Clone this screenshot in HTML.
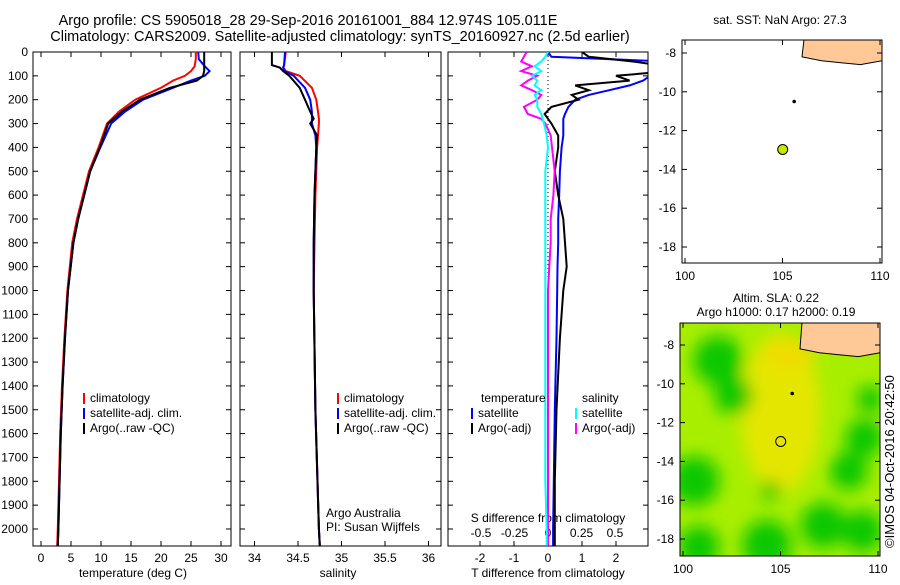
<!DOCTYPE html>
<html><head><meta charset="utf-8"><style>
body{margin:0;background:#fff;}
svg{font-family:"Liberation Sans",sans-serif;font-size:12px;}
</style></head><body>
<svg id="c" width="900" height="580" xmlns="http://www.w3.org/2000/svg">
<text x="308" y="25" text-anchor="middle" font-size="14.5">Argo profile: CS 5905018_28 29-Sep-2016 20161001_884 12.974S 105.011E</text>
<text x="340" y="41" text-anchor="middle" font-size="14.5">Climatology: CARS2009. Satellite-adjusted climatology: synTS_20160927.nc (2.5d earlier)</text>
<g id="g"></g>
<text transform="translate(894,548) rotate(-90)" font-size="13">©IMOS 04-Oct-2016 20:42:50</text>
</svg>
<script>
// ---- data ----
const tDepth=[0,30,60,80,100,120,150,200,250,300,400,500,600,700,800,1000,1200,1400,1600,1800,2000,2070];
const tArgo=[27.2,27.2,27.2,27.2,27.0,26.0,21.5,16.5,13.5,11.2,9.8,8.2,7.2,6.2,5.4,4.5,4.0,3.6,3.3,3.1,2.9,2.8];
const tClim=[25.8,25.8,25.6,25.0,24.0,22.0,20.0,15.7,13.0,11.0,9.6,8.0,7.0,6.0,5.2,4.4,3.9,3.5,3.2,3.0,2.8,2.7];
const tSat=[26.2,26.3,27.3,28.1,27.3,25.0,22.0,17.0,14.0,11.7,9.9,8.2,7.2,6.2,5.4,4.5,4.0,3.6,3.3,3.1,2.9,2.8];
const sDepth=[0,55,65,80,100,150,200,250,280,300,350,400,600,800,1000,1500,2000,2070];
const sArgo=[34.2,34.2,34.29,34.33,34.4,34.52,34.58,34.64,34.68,34.64,34.72,34.71,34.69,34.68,34.68,34.7,34.74,34.75];
const sClim=[34.36,34.34,34.33,34.36,34.52,34.66,34.71,34.73,34.74,34.74,34.73,34.72,34.7,34.69,34.68,34.7,34.74,34.75];
const sSat=[34.35,34.34,34.33,34.35,34.45,34.58,34.64,34.66,34.66,34.66,34.7,34.71,34.69,34.68,34.68,34.7,34.74,34.75];
const dDepth=[0,20,40,60,80,100,120,140,160,180,200,230,260,280,300,350,400,500,600,700,800,900,1000,1200,1500,1800,2000,2070];
const dTSat=[0,0.1,3.5,3.8,3.3,3.0,2.8,2.4,1.8,1.2,0.8,0.6,0.5,0.45,0.45,0.45,0.4,0.35,0.33,0.3,0.3,0.28,0.27,0.25,0.2,0.17,0.15,0.15];
const dTArgo=[1.0,1.2,2.5,3.5,3.6,2.0,2.4,0.8,1.2,0.7,0.9,0.1,-0.1,0,0.1,0.3,0.3,0.2,0.3,0.45,0.5,0.55,0.45,0.35,0.25,0.2,0.2,0.2];
const dSArgo=[-0.16,-0.18,-0.2,-0.12,-0.2,-0.08,-0.15,-0.2,-0.12,-0.05,-0.08,-0.18,-0.15,-0.05,-0.02,0.02,0.03,0.05,0.04,0.02,0.02,0.01,0.0,0.0,0.0,0.0,0.0,0.0];
const dSSat=[0,-0.02,-0.05,-0.1,-0.05,-0.12,-0.08,-0.1,-0.05,-0.1,-0.08,-0.08,-0.05,-0.04,-0.03,-0.01,0,-0.02,-0.02,-0.02,-0.02,-0.02,-0.02,-0.02,-0.02,-0.02,-0.01,-0.01];
const depthTicks=[0,100,200,300,400,500,600,700,800,900,1000,1100,1200,1300,1400,1500,1600,1700,1800,1900,2000];
const tTicks=[0,5,10,15,20,25,30];
const sTicks=[34,34.5,35,35.5,36];
const dtTicks=[-2,-1,0,1,2];
const dsTicks=[-0.5,-0.25,0,0.25,0.5];
const dsLabels=["-0.5","-0.25","0","0.25","0.5"];
const latTicks=[-8,-10,-12,-14,-16,-18];
const lonTicks=[100,105,110];
const floatLon=[105.011];const floatLat=[-12.974];
const greenBlobs=[[101.8,-8.8,1.3],[102.6,-10.6,1.0],[100.6,-15,1.3],[100.8,-18.4,1.1],[104.3,-18.3,1.3],[107.2,-17.3,1.2],[109.2,-17.6,1.1],[109.3,-12.8,1.0],[108.5,-14.5,1.0],[109.6,-10.8,0.7],[104.5,-15.5,0.5]];
// ---- helpers ----
const NS="http://www.w3.org/2000/svg",G=document.getElementById('g');
function mk(t,a,p){const e=document.createElementNS(NS,t);for(const k in a)e.setAttribute(k,a[k]);(p||G).appendChild(e);return e;}
const Y0=52,YS=0.2385,PB=546;
const yD=d=>Y0+d*YS;
function frame(x0,x1,name){const r=mk('rect',{x:x0,y:Y0,width:x1-x0,height:PB-Y0,fill:'none',stroke:'#000'});}
function line(xs,ds,fx,col,w,name,clip){const pts=xs.map((v,i)=>fx(v).toFixed(1)+','+yD(ds[i]).toFixed(1)).join(' ');const p=mk('polyline',{points:pts,fill:'none',stroke:col,'stroke-width':w});if(clip)p.setAttribute('clip-path','url(#'+clip+')');}
function txt(x,y,s,anch,name,sz){const t=mk('text',{x:x,y:y,'text-anchor':anch||'start'});if(sz)t.setAttribute('font-size',sz);t.textContent=s;return t;}
function legend(x,y,items){items.forEach((it,i)=>{mk('line',{x1:x,x2:x,y1:y+i*15-9,y2:y+i*15+2,stroke:it[1],'stroke-width':2});txt(x+6,y+i*15,it[0],'start','legend-entry');});}
const defs=mk('defs',{});
[['c3',448,648,Y0,PB],['m1',682,882,40,263],['m2',680,880,323,556]].forEach(c=>{const cp=mk('clipPath',{id:c[0]},defs);mk('rect',{x:c[1],y:c[3],width:c[2]-c[1],height:c[4]-c[3]},cp);});
depthTicks.forEach(d=>{txt(28,yD(d)+4,String(d),'end','depth-tick-label');});
[[33,231],[240,441],[448,648]].forEach(p=>depthTicks.forEach(d=>{mk('line',{x1:p[0],x2:p[0]+5,y1:yD(d),y2:yD(d),stroke:'#000'});mk('line',{x1:p[1],x2:p[1]-5,y1:yD(d),y2:yD(d),stroke:'#000'});}));
// panel 1
const xT=v=>41+v*6;
frame(33,231,'temperature-panel');
tTicks.forEach(v=>{mk('line',{x1:xT(v),x2:xT(v),y1:PB,y2:PB-5,stroke:'#000'});mk('line',{x1:xT(v),x2:xT(v),y1:Y0,y2:Y0+5,stroke:'#000'});txt(xT(v),562,String(v),'middle','temperature-tick-label');});
txt(133,577,'temperature (deg C)','middle','temperature-axis-title');
line(tClim,tDepth,xT,'#f00',2,'temperature-climatology-line');
line(tSat,tDepth,xT,'#00f',2,'temperature-satellite-line');
line(tArgo,tDepth,xT,'#000',2,'temperature-argo-line');
legend(84,402,[['climatology','#f00'],['satellite-adj. clim.','#00f'],['Argo(..raw -QC)','#000']]);
// panel 2
const xS=v=>254.5+(v-34)*87;
frame(240,441,'salinity-panel');
sTicks.forEach(v=>{mk('line',{x1:xS(v),x2:xS(v),y1:PB,y2:PB-5,stroke:'#000'});mk('line',{x1:xS(v),x2:xS(v),y1:Y0,y2:Y0+5,stroke:'#000'});txt(xS(v),562,String(v),'middle','salinity-tick-label');});
txt(338,577,'salinity','middle','salinity-axis-title');
line(sClim,sDepth,xS,'#f00',2,'salinity-climatology-line');
line(sSat,sDepth,xS,'#00f',2,'salinity-satellite-line');
line(sArgo,sDepth,xS,'#000',2,'salinity-argo-line');
legend(338,402,[['climatology','#f00'],['satellite-adj. clim.','#00f'],['Argo(..raw -QC)','#000']]);
txt(326,517,'Argo Australia','start','credit-argo-australia');
txt(326,531,'PI: Susan Wijffels','start','credit-pi');
// panel 3
const xDT=v=>548+v*34, xDS=v=>548+v*134;
frame(448,648,'difference-panel');
mk('line',{x1:548,x2:548,y1:Y0,y2:PB,stroke:'#000','stroke-dasharray':'1,3'});
dtTicks.forEach(v=>{mk('line',{x1:xDT(v),x2:xDT(v),y1:PB,y2:PB-5,stroke:'#000'});mk('line',{x1:xDT(v),x2:xDT(v),y1:Y0,y2:Y0+5,stroke:'#000'});txt(xDT(v),562,String(v),'middle','t-diff-tick-label');});
dsTicks.forEach((v,i)=>{txt(xDS(v),537,dsLabels[i],'middle','s-diff-tick-label');});
txt(548,522,'S difference from climatology','middle','s-diff-axis-title');
txt(548,577,'T difference from climatology','middle','t-diff-axis-title');
line(dTSat,dDepth,xDT,'#00f',2,'t-diff-satellite-line','c3');
line(dTArgo,dDepth,xDT,'#000',2,'t-diff-argo-line','c3');
line(dSArgo,dDepth,xDS,'#f0f',2,'s-diff-argo-line','c3');
line(dSSat,dDepth,xDS,'#0ff',2,'s-diff-satellite-line','c3');
txt(481,402,'temperature','start','legend-temperature-heading');
txt(582,402,'salinity','start','legend-salinity-heading');
legend(472,417,[['satellite','#00f'],['Argo(-adj)','#000']]);
legend(576,417,[['satellite','#0ff'],['Argo(-adj)','#f0f']]);
// maps
function map(x0,x1,y0,y1,latY0,name,clip,filled){
 const xL=v=>x0+3+(v-100)*19.5, yL=v=>latY0+(-8-v)*19.4;
 if(filled){mk('rect',{x:x0,y:y0,width:x1-x0,height:y1-y0,fill:'#a8ee00'});
  const f=mk('filter',{id:'bl',x:'-50%',y:'-50%',width:'200%',height:'200%'},defs);mk('feGaussianBlur',{stdDeviation:8},f);
  const gg=mk('g',{'clip-path':'url(#'+clip+')',filter:'url(#bl)'});
  mk('ellipse',{cx:xL(105),cy:yL(-11.5),rx:40,ry:80,fill:'#e4e600'},gg);mk('ellipse',{cx:xL(105.5),cy:yL(-8.5),rx:25,ry:15,fill:'#f0dc00'},gg);
  greenBlobs.forEach(b=>{const e=mk('circle',{cx:xL(b[0]),cy:yL(b[1]),r:b[2]*19,fill:'#10c800'},gg);});
 }
 const land=mk('path',{d:`M${xL(106.1)},${y0} L${xL(106)},${yL(-8.2)} L${xL(107)},${yL(-8.4)} L${xL(108)},${yL(-8.5)} L${xL(109)},${yL(-8.6)} L${x1},${yL(-8.4)} L${x1},${y0} Z`,fill:'#ffc896',stroke:'#000','clip-path':'url(#'+clip+')'});
 
 const r=mk('rect',{x:x0,y:y0,width:x1-x0,height:y1-y0,fill:'none',stroke:'#000'});
 latTicks.forEach(v=>{mk('line',{x1:x0,x2:x0+5,y1:yL(v),y2:yL(v),stroke:'#000'});mk('line',{x1:x1,x2:x1-5,y1:yL(v),y2:yL(v),stroke:'#000'});txt(x0-6,yL(v)+4,String(v),'end','lat-tick-label');});
 lonTicks.forEach(v=>{mk('line',{x1:xL(v),x2:xL(v),y1:y1,y2:y1-5,stroke:'#000'});mk('line',{x1:xL(v),x2:xL(v),y1:y0,y2:y0+5,stroke:'#000'});txt(xL(v),y1+17,String(v),'middle','lon-tick-label');});
 mk('circle',{cx:xL(105.6),cy:yL(-10.5),r:1.8,fill:'#000'});
 floatLon.forEach((v,i)=>{const c=mk('circle',{cx:xL(v),cy:yL(floatLat[i]),r:5,fill:filled?'none':'#c8e600',stroke:'#000'});});
}
map(682,882,40,263,53,'sst-map','m1',false);
map(680,880,323,556,345,'sla-map','m2',true);
txt(780,24,'sat. SST: NaN Argo: 27.3','middle','sst-map-title');
txt(776,302,'Altim. SLA: 0.22','middle','sla-map-title');
txt(776,316,'Argo h1000: 0.17 h2000: 0.19','middle','sla-map-subtitle');
</script>
</body></html>
